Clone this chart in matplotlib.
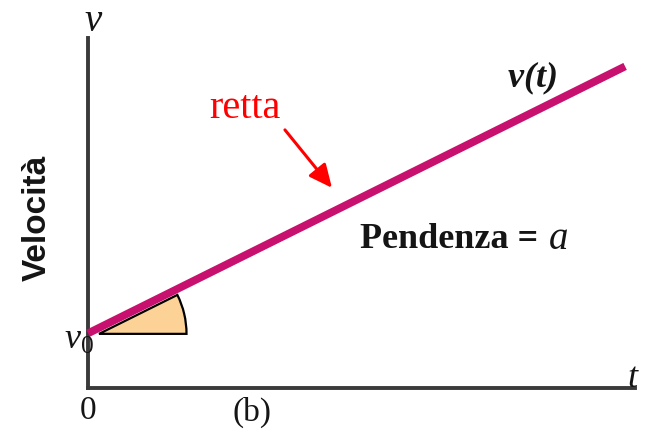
import numpy as np
import matplotlib
matplotlib.use("Agg")
import matplotlib.pyplot as plt
from matplotlib.patches import Wedge

plt.rcParams["mathtext.fontset"] = "custom"
plt.rcParams["mathtext.rm"] = "Liberation Serif"
plt.rcParams["mathtext.it"] = "Liberation Serif:italic"
plt.rcParams["mathtext.bf"] = "Liberation Serif:bold:italic"

# Velocity vs time: v(t) = v0 + a t
t_values = [0.0, 9.82]
v0 = 1.0
a = 0.497
v_values = [v0 + a * t for t in t_values]

ink = "#151515"

fig = plt.figure(figsize=(6.57, 4.44), dpi=100)
ax = fig.add_axes([88 / 657, 56 / 444, 547 / 657, 350 / 444])
ax.set_xlim(0, 10.0)
ax.set_ylim(0, 6.4)
ax.set_aspect("equal", adjustable="box")

for side in ("top", "right"):
    ax.spines[side].set_visible(False)
for side in ("left", "bottom"):
    ax.spines[side].set_linewidth(2.8)
    ax.spines[side].set_color("#3a3a3a")
ax.set_xticks([])
ax.set_yticks([])

# slope wedge at the intercept
angle = np.degrees(np.arctan(a))
ax.add_patch(Wedge((0.2, v0 - 0.01), 1.6, 0, angle, facecolor="#fcd296",
                   edgecolor="black", linewidth=1.6, zorder=2))

ax.plot(t_values, v_values, color="#c8106e", linewidth=5.6,
        solid_capstyle="butt", zorder=3, clip_on=False)

serif = "Liberation Serif"
ax.text(2.87, 5.12, "retta", color="red", fontsize=29, family=serif,
        ha="center", va="center")
ax.annotate("", xy=(4.46, 3.66), xytext=(3.60, 4.72),
            arrowprops=dict(arrowstyle="-|>,head_length=1.4,head_width=0.65",
                            color="red", lw=2.2, shrinkA=0, shrinkB=0))

ax.text(8.12, 5.67, r"$\mathbf{v(t)}$", fontsize=26, ha="center", va="center",
        color=ink)
ax.text(8.4, 2.71, "Pendenza = ", fontsize=26, family=serif,
        fontweight="bold", ha="right", va="center", color=ink)
ax.text(8.43, 2.71, "a", fontsize=28, family=serif, style="italic",
        ha="left", va="center", color=ink)

ax.text(-0.92, 3.11, "Velocità", fontsize=24, family="Liberation Sans",
        fontweight="bold", rotation=90, ha="center", va="center", color=ink)
ax.text(0.09, 6.7, "v", fontsize=28, family=serif, style="italic",
        ha="center", va="center", color=ink)
ax.text(9.95, 0.17, "t", fontsize=26, family=serif, style="italic",
        ha="center", va="center", color=ink)
ax.text(-0.16, 0.9, r"$v_0$", fontsize=26, ha="center", va="center",
        color=ink)
ax.text(0.0, -0.42, "0", fontsize=24, family=serif,
        ha="center", va="center", color=ink)
ax.text(3.0, -0.44, "(b)", fontsize=24, family=serif,
        ha="center", va="center", color=ink)

fig.savefig("out.png", dpi=100)
